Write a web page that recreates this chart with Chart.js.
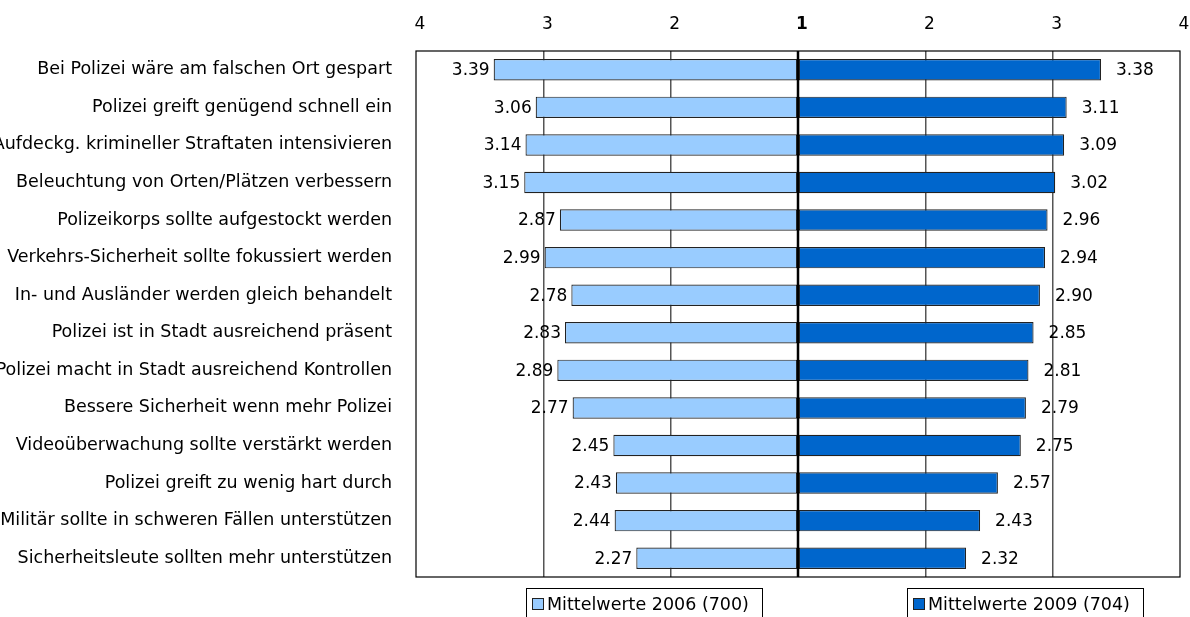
<!DOCTYPE html>
<html>
<head>
<meta charset="utf-8">
<script src="https://cdn.jsdelivr.net/npm/chart.js@4/dist/chart.umd.min.js"></script>
<style>
html,body{margin:0;padding:0;background:#fff;overflow:hidden;}
#wrap{width:1190px;height:617px;position:relative;}
</style>
</head>
<body>
<div id="wrap"><canvas id="c" width="1190" height="617"></canvas></div>
<script>
const categories = [
  "Bei Polizei wäre am falschen Ort gespart",
  "Polizei greift genügend schnell ein",
  "Aufdeckg. krimineller Straftaten intensivieren",
  "Beleuchtung von Orten/Plätzen verbessern",
  "Polizeikorps sollte aufgestockt werden",
  "Verkehrs-Sicherheit sollte fokussiert werden",
  "In- und Ausländer werden gleich behandelt",
  "Polizei ist in Stadt ausreichend präsent",
  "Polizei macht in Stadt ausreichend Kontrollen",
  "Bessere Sicherheit wenn mehr Polizei",
  "Videoüberwachung sollte verstärkt werden",
  "Polizei greift zu wenig hart durch",
  "Militär sollte in schweren Fällen unterstützen",
  "Sicherheitsleute sollten mehr unterstützen"
];
const values2006 = [3.39, 3.06, 3.14, 3.15, 2.87, 2.99, 2.78, 2.83, 2.89, 2.77, 2.45, 2.43, 2.44, 2.27];
const values2009 = [3.38, 3.11, 3.09, 3.02, 2.96, 2.94, 2.90, 2.85, 2.81, 2.79, 2.75, 2.57, 2.43, 2.32];
const seriesNames = ["Mittelwerte 2006 (700)", "Mittelwerte 2009 (704)"];
const tickValues = [4, 3, 2, 1, 2, 3, 4];
const baseValue = 1;

const FONT = "DejaVu Sans";
const colLight = "#99CCFF";
const colDark = "#0066CC";

const leftData = values2006.map(v => -(v - baseValue));
const rightData = values2009.map(v => (v - baseValue));

const frameAndLabels = {
  id: 'frameAndLabels',
  afterDatasetsDraw(chart) {
    const ctx = chart.ctx;
    const a = chart.chartArea;
    ctx.save();
    // center axis line
    const x0 = chart.scales.x.getPixelForValue(0);
    ctx.strokeStyle = '#000';
    ctx.lineWidth = 2.5;
    ctx.beginPath(); ctx.moveTo(x0, a.top); ctx.lineTo(x0, a.bottom); ctx.stroke();
    // frame
    ctx.lineWidth = 1.2;
    ctx.strokeRect(a.left, a.top, a.right - a.left, a.bottom - a.top);
    // value labels
    ctx.fillStyle = '#000';
    ctx.font = '17px "' + FONT + '"';
    ctx.textBaseline = 'middle';
    const raw = [values2006, values2009];
    chart.data.datasets.forEach((ds, di) => {
      const meta = chart.getDatasetMeta(di);
      meta.data.forEach((el, i) => {
        const txt = raw[di][i].toFixed(2);
        if (di === 0) { ctx.textAlign = 'right'; ctx.fillText(txt, el.x - 4, el.y + 1); }
        else { ctx.textAlign = 'left'; ctx.fillText(txt, el.x + 15, el.y + 1); }
      });
    });
    // legend
    ctx.font = '17.5px "' + FONT + '"';
    const boxes = [[526, 762, colLight], [907, 1143, colDark]];
    boxes.forEach((b, i) => {
      ctx.strokeStyle = '#000';
      ctx.lineWidth = 1;
      ctx.strokeRect(b[0] + 0.5, 588.5, b[1] - b[0], 40);
      ctx.fillStyle = b[2];
      ctx.fillRect(b[0] + 6.5, 598.5, 11, 11);
      ctx.strokeStyle = '#222';
      ctx.strokeRect(b[0] + 6.5, 598.5, 11, 11);
      ctx.fillStyle = '#000';
      ctx.textAlign = 'left';
      ctx.textBaseline = 'middle';
      ctx.fillText(seriesNames[i], b[0] + 21, 605);
    });
    ctx.restore();
  }
};

new Chart(document.getElementById('c'), {
  type: 'bar',
  data: {
    labels: categories,
    datasets: [
      { label: seriesNames[0], data: leftData, backgroundColor: colLight, borderColor: '#222', borderWidth: 1.2, borderSkipped: false },
      { label: seriesNames[1], data: rightData, backgroundColor: colDark, borderColor: '#222', borderWidth: 1.2, borderSkipped: false }
    ]
  },
  options: {
    indexAxis: 'y',
    responsive: false,
    animation: false,
    devicePixelRatio: 1,
    layout: { padding: { left: 0, right: 10, top: 0, bottom: 40 } },
    datasets: { bar: { barPercentage: 0.57, categoryPercentage: 1 } },
    plugins: { legend: { display: false }, tooltip: { enabled: false } },
    scales: {
      x: {
        position: 'top',
        stacked: true,
        min: -3, max: 3,
        afterFit(s) { s.height = 51; s.paddingLeft = 0; s.paddingRight = 0; },
        afterBuildTicks(s) { s.ticks = tickValues.map((t, i) => ({ value: i - 3 })); },
        ticks: {
          callback: (v, i) => String(tickValues[i]),
          font: (c) => ({ family: FONT, size: 17, weight: (c.tick && c.tick.value === 0) ? 'bold' : 'normal' }),
          color: '#000',
          padding: 16,
          labelOffset: 4,
          maxRotation: 0
        },
        grid: {
          drawTicks: false,
          color: '#555',
          lineWidth: (c) => (c.tick && Math.abs(c.tick.value) === 3) ? 0 : 1.5
        },
        border: { display: false }
      },
      y: {
        stacked: true,
        afterFit(s) { s.width = 416; },
        ticks: { font: { family: FONT, size: 17.5 }, color: '#000', padding: 16 },
        grid: { display: false },
        border: { display: false }
      }
    }
  },
  plugins: [frameAndLabels]
});
</script>
</body>
</html>
